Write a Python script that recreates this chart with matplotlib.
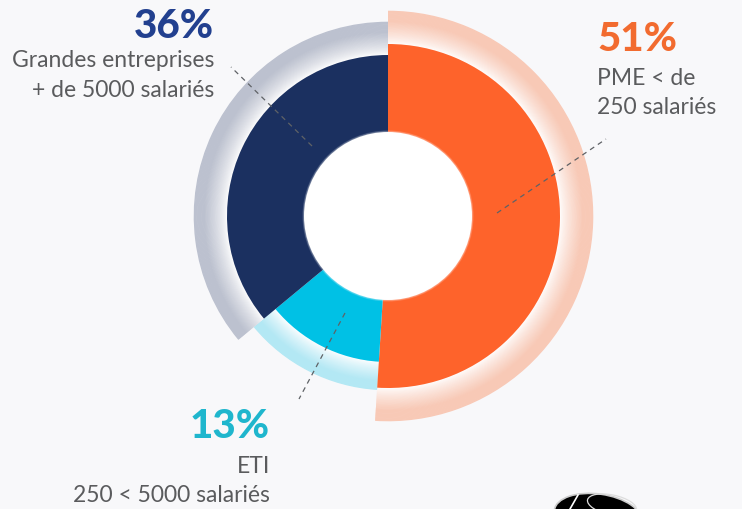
import numpy as np
import matplotlib
matplotlib.use("Agg")
import matplotlib.pyplot as plt
from matplotlib.patches import Wedge, Circle, Ellipse
from matplotlib.colors import to_rgb

# ---- data ----
categories = ["PME", "ETI", "Grandes entreprises"]
shares = [51, 13, 36]
pct_labels = ["51%", "13%", "36%"]
desc_labels = [["PME < de", "250 salariés"],
               ["ETI", "250 < 5000 salariés"],
               ["Grandes entreprises", "+ de 5000 salariés"]]

# ---- style ----
colors = ["#fe632b", "#00c1e5", "#1b3060"]
halo_colors = ["#f8c9b6", "#b3e8f4", "#bcc1cf"]
text_colors = ["#f26b2f", "#1fb6cd", "#22408f"]
seg_r = [172, 146, 161]
halo_r = [205, 174, 194]
inner_r = 84
W, H = 742, 509
cx, cy = 388, H - 216
bg = "#f8f8fa"

plt.rcParams['font.family'] = ['Lato', 'DejaVu Sans']

fig = plt.figure(figsize=(W / 100, H / 100), dpi=100, facecolor=bg)
ax = fig.add_axes([0, 0, 1, 1])
ax.set_xlim(0, W)
ax.set_ylim(0, H)
ax.set_aspect('equal')
ax.axis('off')
ax.set_facecolor(bg)

def Y(py):
    return H - py

# angles: start at top, clockwise
total = float(sum(shares))
start = 90.0
angles = []
for s in shares:
    sweep = s / total * 360.0
    angles.append((start - sweep, start))
    start -= sweep

white = np.array(to_rgb("#ffffff"))
# halos with radial gradient (white near segment -> tint outside)
N = 40
for (t1, t2), r0, r1, hc in zip(angles, seg_r, halo_r, halo_colors):
    c = np.array(to_rgb(hc))
    edges = np.linspace(r0, r1, N + 1)
    for i in range(N):
        t = (i + 0.5) / N
        f = min(1.0, (t / 0.7)) ** 0.75
        col = white * (1 - f) + c * f
        ax.add_patch(Wedge((cx, cy), edges[i + 1] + 0.3, t1, t2,
                           width=edges[i + 1] - edges[i] + 0.6,
                           facecolor=col, edgecolor='none', zorder=1))

# main segments
for (t1, t2), r, col in zip(angles, seg_r, colors):
    ax.add_patch(Wedge((cx, cy), r, t1, t2, width=r - inner_r + 2,
                       facecolor=col, edgecolor='none', zorder=2))

# soft inner edge + white hole
for k in range(4):
    ax.add_patch(Circle((cx, cy), inner_r + 1.6 - k * 0.4, facecolor='white',
                        alpha=0.12, edgecolor='none', zorder=3))
ax.add_patch(Circle((cx, cy), inner_r, facecolor='white', edgecolor='none', zorder=4))

# leader lines (annotation positions in pixels)
leaders = [((497, 213), (606, 139)),
           ((345, 313), (299, 399)),
           ((312, 146), (231, 67))]
for (x0, y0), (x1, y1) in leaders:
    ax.plot([x0, x1], [Y(y0), Y(y1)], color='#5f6266', lw=0.9,
            dashes=(4, 3.5), zorder=5, solid_capstyle='butt')

# labels
label_pos = [(597, 'left', 51, [85, 114]),
             (270, 'right', 438, [473, 502]),
             (214, 'right', 38, [67, 97])]
for (x, ha, yb, ys), p, d, tc in zip(label_pos, pct_labels, desc_labels, text_colors):
    ax.text(x, Y(yb), p, ha=ha, va='baseline', fontsize=29, fontweight='black',
            color=tc, zorder=6)
    for line, yy in zip(d, ys):
        ax.text(x, Y(yy), line, ha=ha, va='baseline', fontsize=16.5,
                color='#5a5b5d', zorder=6)

# partial logo at bottom right (decoration)
ax.add_patch(Ellipse((598, Y(516)), 88, 44, angle=-8, facecolor='black',
                     edgecolor='#cccccc', lw=1.2, zorder=6))
ax.plot([578, 570], [Y(495), Y(509)], color='white', lw=1.2, zorder=7)
ax.add_patch(Ellipse((612, Y(505)), 50, 20, angle=-12, facecolor='none',
                     edgecolor='#dddddd', lw=0.9, zorder=7))

fig.savefig("out.png", dpi=100, facecolor=bg)
